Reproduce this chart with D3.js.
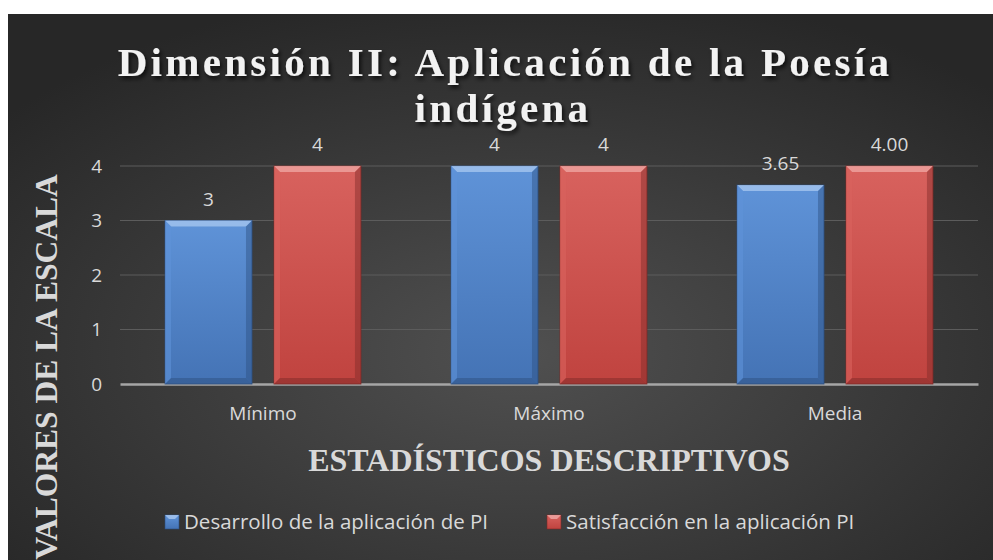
<!DOCTYPE html>
<html>
<head>
<meta charset="utf-8">
<script src="https://cdn.jsdelivr.net/npm/d3@7"></script>
<style>
  body { margin: 0; background: #fff; }
  text { font-family: "Open Sans", sans-serif; }
  .serif { font-family: "Liberation Serif", "Times New Roman", serif; font-weight: bold; }
</style>
</head>
<body>
<div id="chart"></div>
<script>
// data
var categories = ["Mínimo", "Máximo", "Media"];
var seriesNames = ["Desarrollo de la aplicación de PI", "Satisfacción en la aplicación PI"];
var desarrollo = [3, 4, 3.65];
var satisfaccion = [4, 4, 4.00];
var labelsDesarrollo = ["3", "4", "3.65"];
var labelsSatisfaccion = ["4", "4", "4.00"];
var yTicks = [0, 1, 2, 3, 4];

var W = 993, H = 560;
var svg = d3.select("#chart").append("svg")
    .attr("width", W)
    .attr("height", H);

var defs = svg.append("defs");

// background gradient
var bg = defs.append("radialGradient")
    .attr("id", "bg")
    .attr("cx", "52%").attr("cy", "62%").attr("r", "68%");
bg.append("stop").attr("offset", "0%").attr("stop-color", "#505050");
bg.append("stop").attr("offset", "100%").attr("stop-color", "#272727");

// bar gradients
var colors = [
  {id: "gBlue", top: "#5f93d8", bot: "#4473b5", light: "#a9c8f0", dark: "#2d4f80"},
  {id: "gRed", top: "#d8625e", bot: "#c0433f", light: "#f0a9a6", dark: "#7e2a27"}
];
colors.forEach(function(c) {
  var g = defs.append("linearGradient").attr("id", c.id)
      .attr("x1", 0).attr("y1", 0).attr("x2", 0).attr("y2", 1);
  g.append("stop").attr("offset", "0%").attr("stop-color", c.top);
  g.append("stop").attr("offset", "100%").attr("stop-color", c.bot);
});

var shadow = defs.append("filter").attr("id", "shadow")
    .attr("x", "-10%").attr("y", "-20%").attr("width", "130%").attr("height", "150%");
shadow.append("feDropShadow")
    .attr("dx", 2).attr("dy", 3).attr("stdDeviation", 2)
    .attr("flood-color", "#000").attr("flood-opacity", 0.7);

svg.append("rect")
    .attr("x", 8).attr("y", 14)
    .attr("width", W - 8).attr("height", H - 14)
    .attr("fill", "url(#bg)");

// scales
var x0 = d3.scaleBand()
    .domain(categories)
    .range([120, 978])
    .paddingInner(0.315)
    .paddingOuter(0.1575);

var x1 = d3.scaleBand()
    .domain([0, 1])
    .range([0, x0.bandwidth()])
    .paddingInner(0.202);

var y = d3.scaleLinear()
    .domain([0, 4])
    .range([384, 166]);

// gridlines
svg.append("g")
  .selectAll("line")
  .data(yTicks.filter(function(d) { return d > 0; }))
  .enter().append("line")
    .attr("x1", 120).attr("x2", 978)
    .attr("y1", function(d) { return y(d); })
    .attr("y2", function(d) { return y(d); })
    .attr("stroke", "#5c5c5c")
    .attr("stroke-width", 1);

// y axis tick labels
var yAxis = svg.append("g")
    .attr("transform", "translate(120,0)")
    .call(d3.axisLeft(y).tickValues(yTicks).tickFormat(d3.format("d")).tickSize(0).tickPadding(18));
yAxis.select(".domain").remove();
yAxis.selectAll("text")
    .style("font-family", "Open Sans")
    .style("font-size", "19px")
    .attr("fill", "#d9d9d9");

// x axis
var xAxis = svg.append("g")
    .attr("transform", "translate(0," + y(0) + ")")
    .call(d3.axisBottom(x0).tickSize(0).tickPadding(23));
xAxis.select(".domain")
    .attr("stroke", "#a6a6a6")
    .attr("stroke-width", 2.5);
xAxis.selectAll("text")
    .style("font-family", "Open Sans")
    .style("font-size", "19px")
    .attr("fill", "#d9d9d9");

// bars
var rows = categories.map(function(c, i) {
  return [
    {cat: c, s: 0, v: desarrollo[i], label: labelsDesarrollo[i]},
    {cat: c, s: 1, v: satisfaccion[i], label: labelsSatisfaccion[i]}
  ];
});
var bars = [].concat.apply([], rows);

var b = 6; // bevel size
var barG = svg.append("g")
  .selectAll("g")
  .data(bars)
  .enter().append("g")
    .attr("transform", function(d) {
      return "translate(" + (x0(d.cat) + x1(d.s)) + "," + y(d.v) + ")";
    });

barG.append("rect")
    .attr("width", x1.bandwidth())
    .attr("height", function(d) { return y(0) - y(d.v); })
    .attr("fill", function(d) { return "url(#" + colors[d.s].id + ")"; })
    .attr("stroke", function(d) { return colors[d.s].dark; })
    .attr("stroke-width", 0.8);

// top bevel
barG.append("polygon")
    .attr("points", function(d) {
      var w = x1.bandwidth();
      return [[0, 0], [w, 0], [w - b, b], [b, b]].join(" ");
    })
    .attr("fill", function(d) { return colors[d.s].light; })
    .attr("opacity", 0.75);
// left bevel
barG.append("polygon")
    .attr("points", function(d) {
      var h = y(0) - y(d.v);
      return [[0, 0], [b, b], [b, h - b], [0, h]].join(" ");
    })
    .attr("fill", function(d) { return colors[d.s].top; })
    .attr("opacity", 0.6);
// right bevel
barG.append("polygon")
    .attr("points", function(d) {
      var w = x1.bandwidth(), h = y(0) - y(d.v);
      return [[w, 0], [w, h], [w - b, h - b], [w - b, b]].join(" ");
    })
    .attr("fill", function(d) { return colors[d.s].dark; })
    .attr("opacity", 0.45);
// bottom bevel
barG.append("polygon")
    .attr("points", function(d) {
      var w = x1.bandwidth(), h = y(0) - y(d.v);
      return [[0, h], [b, h - b], [w - b, h - b], [w, h]].join(" ");
    })
    .attr("fill", function(d) { return colors[d.s].dark; })
    .attr("opacity", 0.5);

// data labels
barG.append("text")
    .attr("x", x1.bandwidth() / 2)
    .attr("y", -15)
    .attr("text-anchor", "middle")
    .style("font-size", "19px")
    .attr("fill", "#d9d9d9")
    .text(function(d) { return d.label; });

// title
var title = svg.append("text")
    .attr("class", "serif")
    .attr("text-anchor", "middle")
    .attr("fill", "#f2f2f2")
    .attr("filter", "url(#shadow)")
    .style("font-size", "41px")
    .style("letter-spacing", "3.3px");
title.append("tspan").attr("x", 505).attr("y", 76).text("Dimensión II: Aplicación de la Poesía");
title.append("tspan").attr("x", 503).attr("y", 122).text("indígena");

// axis titles
svg.append("text")
    .attr("class", "serif")
    .attr("text-anchor", "middle")
    .attr("x", 549).attr("y", 471)
    .attr("fill", "#d9d9d9")
    .style("font-size", "32px")
    .text("ESTADÍSTICOS DESCRIPTIVOS");

svg.append("text")
    .attr("class", "serif")
    .attr("text-anchor", "middle")
    .attr("transform", "translate(57,367) rotate(-90)")
    .attr("fill", "#d9d9d9")
    .style("font-size", "31.5px")
    .text("VALORES DE LA ESCALA");

// legend
var legendX = [165, 547];
var legend = svg.append("g")
  .selectAll("g")
  .data(seriesNames)
  .enter().append("g")
    .attr("transform", function(d, i) { return "translate(" + legendX[i] + ",515)"; });

legend.append("rect")
    .attr("width", 14).attr("height", 14)
    .attr("fill", function(d, i) { return "url(#" + colors[i].id + ")"; })
    .attr("stroke", function(d, i) { return colors[i].dark; })
    .attr("stroke-width", 0.6);
legend.append("polygon")
    .attr("points", "0,0 14,0 10,4 4,4")
    .attr("fill", function(d, i) { return colors[i].light; })
    .attr("opacity", 0.8);

legend.append("text")
    .attr("x", 19).attr("y", 14)
    .style("font-size", "20.5px")
    .attr("fill", "#d9d9d9")
    .text(function(d) { return d; });
</script>
</body>
</html>
